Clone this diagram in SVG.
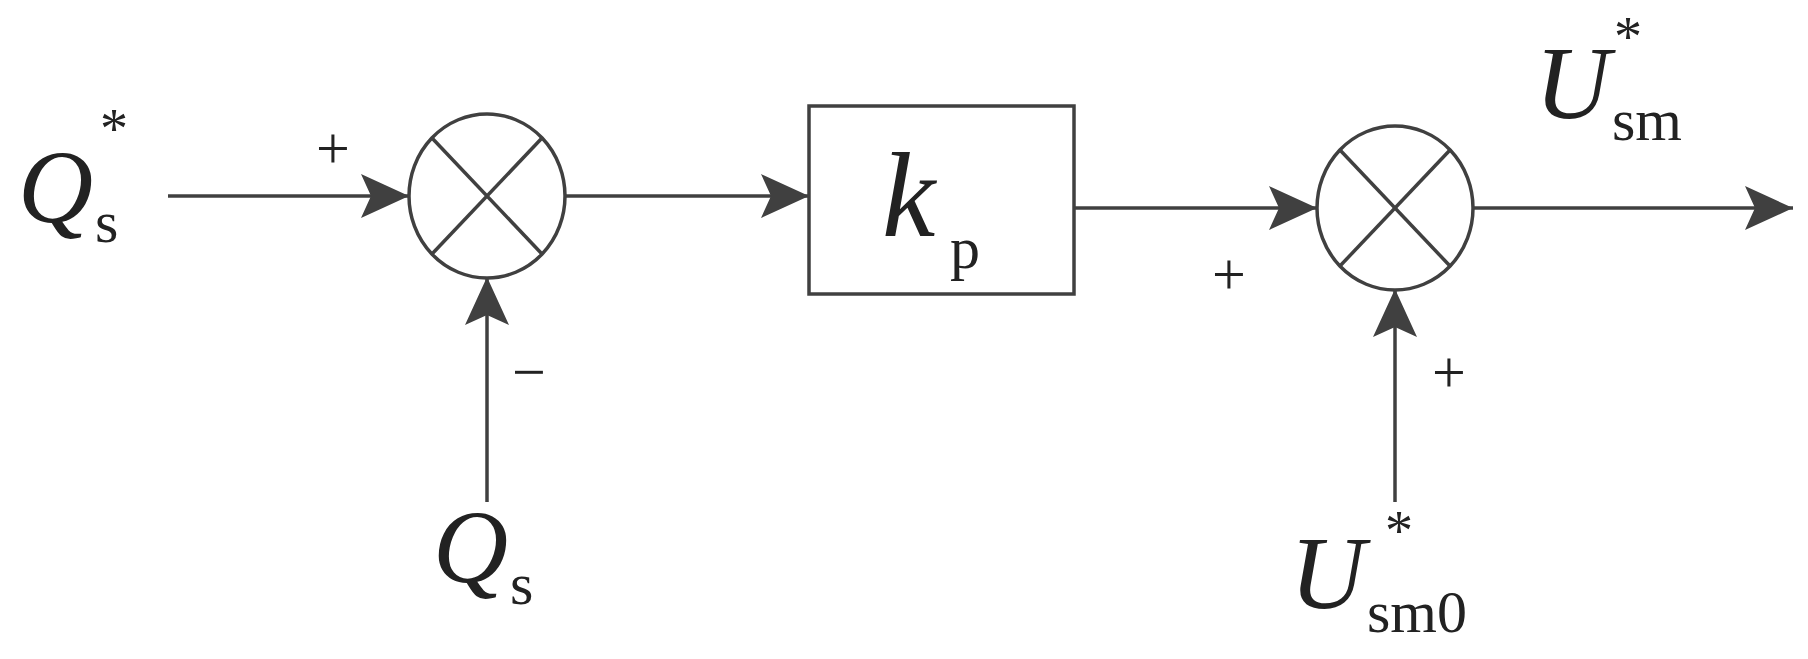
<svg xmlns="http://www.w3.org/2000/svg" width="1808" height="659" viewBox="0 0 1808 659">
<style>
.l{stroke:#404040;stroke-width:3.5;fill:none}
.t{font-family:"Liberation Serif","Times New Roman",serif;font-weight:normal;fill:#222}
.i{font-style:italic}
</style>
<defs>
<marker id="b" markerWidth="48" markerHeight="44" refX="48" refY="22" orient="auto" markerUnits="userSpaceOnUse"><path d="M0,0 L48,22 L0,44 L10,22 Z" fill="#404040"/></marker></defs>
<rect width="1808" height="659" fill="#fff"/>
<g id="connectors">
<line class="l" x1="168" y1="196" x2="409" y2="196" marker-end="url(#b)"/>
<line class="l" x1="565" y1="196" x2="809" y2="196" marker-end="url(#b)"/>
<line class="l" x1="1074" y1="208" x2="1317" y2="208" marker-end="url(#b)"/>
<line class="l" x1="1474" y1="208" x2="1793" y2="208" marker-end="url(#b)"/>
<line class="l" x1="487" y1="502" x2="487" y2="277" marker-end="url(#b)"/>
<line class="l" x1="1395" y1="502" x2="1395" y2="289" marker-end="url(#b)"/>
</g>
<g id="sum1"><ellipse class="l" cx="487" cy="196" rx="78" ry="82"/>
<line class="l" x1="432" y1="138" x2="542" y2="254"/><line class="l" x1="542" y1="138" x2="432" y2="254"/></g>
<g id="gain"><rect class="l" x="809" y="106" width="265" height="188"/>
<text class="t i" x="882" y="236" font-size="120">k</text><text class="t" x="950" y="268" font-size="60">p</text></g>
<g id="sum2"><ellipse class="l" cx="1395" cy="208" rx="78" ry="82"/>
<line class="l" x1="1340" y1="150" x2="1450" y2="266"/><line class="l" x1="1450" y1="150" x2="1340" y2="266"/></g>
<g id="labels">
<text class="t i" x="18" y="222" font-size="104">Q</text><text class="t" x="95" y="242" font-size="60">s</text><text class="t" x="100" y="148" font-size="56">*</text>
<text class="t" x="316" y="168" font-size="60">+</text>
<text class="t" x="512" y="392" font-size="60">−</text>
<text class="t i" x="433" y="582" font-size="104">Q</text><text class="t" x="510" y="604" font-size="60">s</text>
<text class="t" x="1212" y="294" font-size="60">+</text>
<text class="t" x="1432" y="392" font-size="60">+</text>
<text class="t i" x="1535" y="118" font-size="104">U</text><text class="t" x="1612" y="140" font-size="60">sm</text><text class="t" x="1614" y="56" font-size="56">*</text>
<text class="t i" x="1290" y="608" font-size="104">U</text><text class="t" x="1367" y="632" font-size="60">sm0</text><text class="t" x="1385" y="550" font-size="56">*</text>
</g>
</svg>
